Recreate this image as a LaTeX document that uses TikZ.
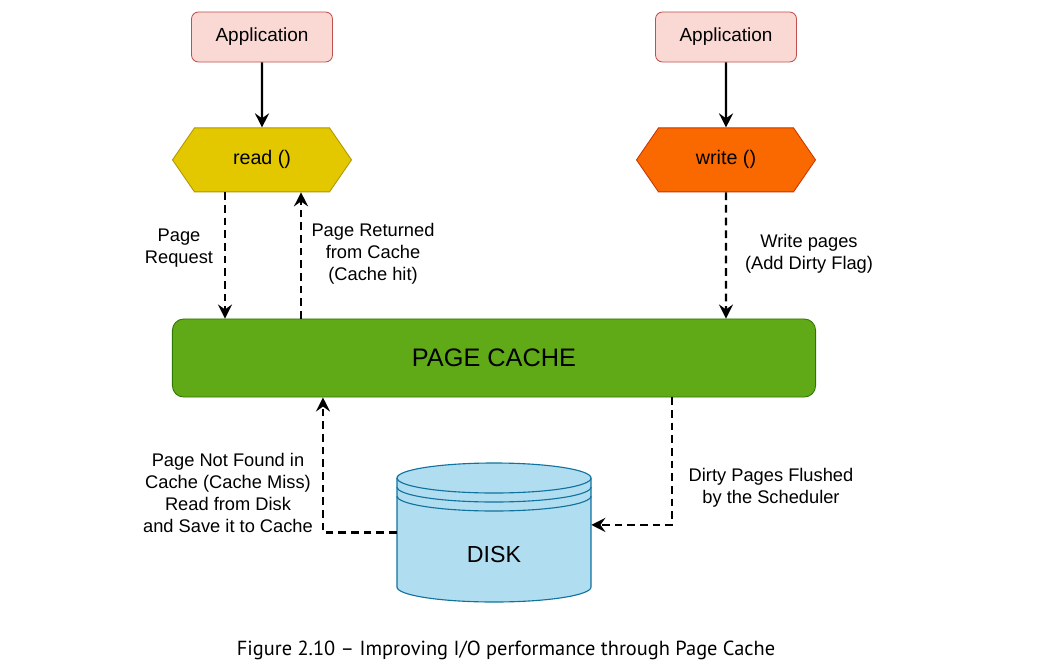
\documentclass[tikz,border=0pt]{standalone}
\usepackage{fontspec}
\setmainfont{Liberation Sans}
\newfontfamily\captionfont[Ligatures=TeX]{PT Sans}
\usepackage{xcolor}
\usetikzlibrary{shapes.symbols, arrows.meta, positioning, calc}

\definecolor{apppink}{HTML}{FAD9D5}
\definecolor{appedge}{HTML}{C0504D}
\definecolor{readfill}{HTML}{E3C800}
\definecolor{readedge}{HTML}{B09500}
\definecolor{writefill}{HTML}{FA6800}
\definecolor{writeedge}{HTML}{C73500}
\definecolor{cachefill}{HTML}{60A917}
\definecolor{cacheedge}{HTML}{2D7600}
\definecolor{diskfill}{HTML}{B1DDF0}
\definecolor{diskedge}{HTML}{10739E}

\begin{document}
\begin{tikzpicture}[
    x=0.025cm, y=0.025cm,
    % Application boxes
    appbox/.style={rectangle, draw=appedge, fill=apppink, line width=0.6pt,
                   rounded corners=5pt, minimum width=3.525cm, minimum height=1.25cm,
                   font=\fontsize{13.5}{16}\selectfont},
    % read()/write() hexagons
    hexop/.style={signal, signal to=east and west, signal pointer angle=111,
                  line width=0.6pt, minimum width=4.475cm, minimum height=1.6cm,
                  inner sep=0pt, font=\fontsize{14}{17}\selectfont},
    % Page cache bar
    cachebar/.style={rectangle, draw=cacheedge, fill=cachefill, line width=0.6pt,
                     rounded corners=8pt, minimum width=16.075cm, minimum height=1.95cm,
                     font=\fontsize{18}{22}\selectfont},
    % Disk (drum drawn separately)
    diskbody/.style={rectangle, minimum width=4.85cm, minimum height=3.475cm},
    diskline/.style={draw=diskedge, line width=0.8pt},
    lbl/.style={align=center, inner sep=0pt, font=\fontsize{13}{15.6}\selectfont},
    flow/.style={-{Stealth[length=10pt, width=10pt, inset=3.5pt]}, line width=1.7pt},
    dflow/.style={flow, dash pattern=on 5.5pt off 3.5pt}
]
\useasboundingbox (0,0) rectangle (1056,-670);

%-------- TOP: APPLICATIONS AND CALLS --------
\node[appbox] (appR) at (262,-37) {Application};
\node[appbox] (appW) at (726,-37) {Application};
\node[hexop, fill=readfill, draw=readedge, below=1.625cm of appR] (readop) {read ()};
\node[hexop, fill=writefill, draw=writeedge, below=1.625cm of appW] (writeop) {write ()};

%-------- PAGE CACHE --------
\node[cachebar] (cache) at (494,-358) {PAGE CACHE};

%-------- DISK --------
\path[diskline, fill=diskfill] (397,-478) -- (397,-587)
    arc[start angle=180, end angle=360, x radius=97, y radius=15] -- (591,-478)
    arc[start angle=0, end angle=180, x radius=97, y radius=15] -- cycle;
\draw[diskline] (397,-478) arc[start angle=180, end angle=360, x radius=97, y radius=15];
\draw[diskline] (397,-487) arc[start angle=180, end angle=360, x radius=97, y radius=15];
\draw[diskline] (397,-496) arc[start angle=180, end angle=360, x radius=97, y radius=15];
\node[diskbody] (disk) at (494,-532.5) {};
\node[font=\fontsize{16.5}{20}\selectfont] (disklbl) at (494,-555) {DISK};

%-------- ARROWS --------
\draw[flow] (appR) -- (readop);
\draw[flow] (appW) -- (writeop);
\draw[dflow] ([xshift=-0.925cm]readop.south) -- ([xshift=-0.925cm]readop.south |- cache.north);
\draw[dflow] ([xshift=0.975cm]readop.south |- cache.north) -- ([xshift=0.975cm]readop.south);
\draw[dflow] (writeop) -- (writeop |- cache.north);
\draw[dflow] (disk.west) -| ([xshift=-4.275cm]cache.south);
\draw[dflow] ([xshift=4.45cm]cache.south) |- ([yshift=0.19cm]disk.east);

%-------- LABELS --------
\node[lbl] (reqlbl) at (179,-248) {Page\\Request};
\node[lbl] (hitlbl) at (373,-254) {Page Returned\\from Cache\\(Cache hit)};
\node[lbl] (wrlbl)  at (809,-254) {Write pages\\(Add Dirty Flag)};
\node[lbl] (misslbl) at (228,-493) {Page Not Found in\\Cache (Cache Miss)\\Read from Disk\\and Save it to Cache};
\node[lbl] (flushlbl) at (771,-488) {Dirty Pages Flushed\\by the Scheduler};

%-------- CAPTION --------
\node[font=\captionfont\fontsize{14.5}{17}\selectfont] (caption) at (506,-650)
    {Figure 2.10 -- Improving I/O performance through Page Cache};

\end{tikzpicture}
\end{document}
